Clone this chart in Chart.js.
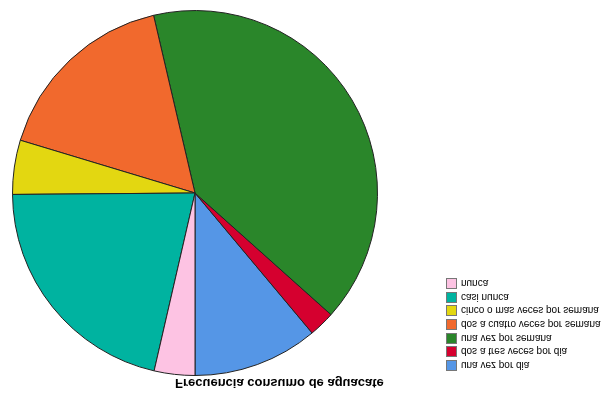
<!DOCTYPE html>
<html>
<head>
<meta charset="utf-8">
<script src="https://cdn.jsdelivr.net/npm/chart.js@4"></script>
<style>
  html, body { margin: 0; padding: 0; background: #fff; }
  #wrap { position: relative; width: 603px; height: 395px; transform: scaleY(-1); overflow: hidden; }
  #c { position: absolute; left: 0; top: 0; }
  #title { position: absolute; left: 175px; top: 4px; font: bold 13px "Liberation Sans", Arial, sans-serif; color: #000; white-space: nowrap; }
  #legend { position: absolute; left: 446px; top: 23px; font: 10px "Liberation Sans", Arial, sans-serif; color: #000; }
  .row { height: 13.6px; display: flex; align-items: center; white-space: nowrap; }
  .box { width: 9px; height: 9px; border: 1px solid #777; margin-right: 4px; box-sizing: content-box; }
</style>
</head>
<body>
<div id="wrap">
  <canvas id="c" width="603" height="395"></canvas>
  <div id="title"></div>
  <div id="legend"></div>
</div>
<script>
const titleText = "Frecuencia consumo de aguacate";
const categories = [
  "una vez por dia",
  "dos a tres veces por dia",
  "una vez por semana",
  "dos a cuatro veces por semana",
  "cinco o mas veces por semana",
  "casi nunca",
  "nunca"
];
const percentValues = [11.1, 2.3, 40.3, 16.7, 4.8, 21.3, 3.6];
const colors = ["#5596e6", "#d5002f", "#2a862a", "#f1692d", "#e3d711", "#00b3a0", "#fdc3e3"];

document.getElementById("title").textContent = titleText;
const legend = document.getElementById("legend");
categories.forEach((c, i) => {
  const row = document.createElement("div");
  row.className = "row";
  const b = document.createElement("span");
  b.className = "box";
  b.style.background = colors[i];
  const t = document.createElement("span");
  t.textContent = c;
  row.appendChild(b); row.appendChild(t);
  legend.appendChild(row);
});

new Chart(document.getElementById("c"), {
  type: "pie",
  data: {
    labels: categories,
    datasets: [{
      data: percentValues,
      backgroundColor: colors,
      borderColor: "#222",
      borderWidth: 1
    }]
  },
  options: {
    responsive: false,
    animation: false,
    layout: { padding: { left: 12, right: 225, top: 19, bottom: 10 } },
    plugins: { legend: { display: false }, title: { display: false }, tooltip: { enabled: false } }
  }
});
</script>
</body>
</html>
